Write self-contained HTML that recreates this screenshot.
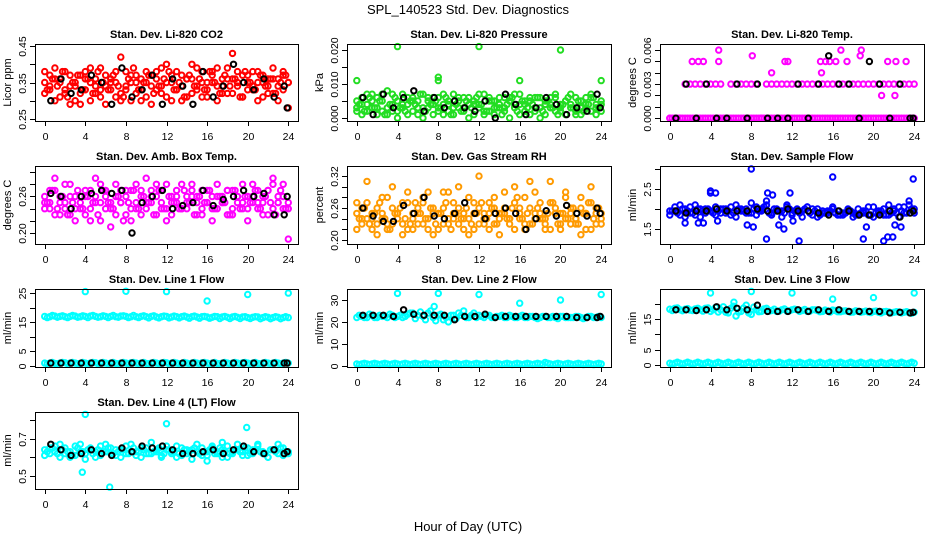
<!DOCTYPE html>
<html><head><meta charset="utf-8"><style>
html,body{margin:0;padding:0;background:#fff;}
svg{display:block;font-family:"Liberation Sans",Arial,sans-serif;}
</style></head><body>
<svg id="chart" width="936" height="540" viewBox="0 0 936 540" xmlns="http://www.w3.org/2000/svg">
<text x="468" y="14" text-anchor="middle" font-size="13">SPL_140523  Std. Dev. Diagnostics</text>
<text x="468" y="531" text-anchor="middle" font-size="13">Hour of Day (UTC)</text>
</svg>
<script>
const hoursC = [0,0.5,1,1.5,2,2.5,3,3.5,4,4.5,5,5.5,6,6.5,7,7.5,8,8.5,9,9.5,10,10.5,11,11.5,12,12.5,13,13.5,14,14.5,15,15.5,16,16.5,17,17.5,18,18.5,19,19.5,20,20.5,21,21.5,22,22.5,23,23.5,24];
const hoursD = [0.25,0.75,1.25,1.75,2.25,2.75,3.25,3.75,4.25,4.75,5.25,5.75,6.25,6.75,7.25,7.75,8.25,8.75,9.25,9.75,10.25,10.75,11.25,11.75,12.25,12.75,13.25,13.75,14.25,14.75,15.25,15.75,16.25,16.75,17.25,17.75,18.25,18.75,19.25,19.75,20.25,20.75,21.25,21.75,22.25,22.75,23.25,23.75];
const hoursB = [0.6,1.6,2.6,3.6,4.6,5.6,6.6,7.6,8.6,9.6,10.6,11.6,12.6,13.6,14.6,15.6,16.6,17.6,18.6,19.6,20.6,21.6,22.6,23.6,23.9];
const xTicks = [0,4,8,12,16,20,24];

const co2A = [0.35,0.33,0.36,0.31,0.38,0.34,0.30,0.37,0.33,0.35,0.32,0.39,0.34,0.36,0.31,0.42,0.33,0.37,0.35,0.30,0.38,0.34,0.36,0.32,0.40,0.35,0.33,0.37,0.31,0.36,0.34,0.38,0.33,0.35,0.39,0.32,0.36,0.43,0.34,0.37,0.33,0.38,0.35,0.31,0.36,0.39,0.34,0.37,0.35];
const co2B = [0.32,0.37,0.30,0.36,0.33,0.29,0.35,0.32,0.38,0.30,0.36,0.33,0.29,0.35,0.38,0.32,0.34,0.30,0.37,0.33,0.35,0.29,0.38,0.34,0.31,0.37,0.33,0.30,0.36,0.32,0.39,0.31,0.35,0.37,0.30,0.34,0.32,0.36,0.38,0.31,0.35,0.33,0.30,0.37,0.34,0.32,0.36,0.33,0.28];
const co2C = [0.38,0.34,0.39,0.35,0.32,0.37,0.34,0.29,0.36,0.39,0.34,0.31,0.37,0.33,0.35,0.30,0.38,0.35,0.32,0.36,0.31,0.37,0.33,0.39,0.35,0.30,0.38,0.34,0.36,0.40,0.33,0.35,0.31,0.38,0.34,0.36,0.39,0.32,0.35,0.31,0.37,0.34,0.38,0.35,0.32,0.36,0.30,0.38,0.35];
const co2D = [0.33,0.36,0.34,0.38,0.31,0.35,0.37,0.33,0.36,0.32,0.38,0.35,0.33,0.37,0.34,0.31,0.36,0.39,0.33,0.35,0.37,0.32,0.34,0.36,0.38,0.33,0.35,0.31,0.37,0.34,0.36,0.33,0.38,0.35,0.32,0.37,0.34,0.36,0.31,0.38,0.35,0.33,0.37,0.34,0.36,0.32,0.35,0.37];
const co2Black = [0.30,0.36,0.32,0.33,0.37,0.35,0.29,0.39,0.31,0.33,0.37,0.29,0.36,0.34,0.29,0.38,0.31,0.34,0.40,0.35,0.33,0.36,0.31,0.34,0.28];

const presA = [0.002,0.006,0.004,0.007,0.001,0.005,0.003,0.007,0.000,0.004,0.006,0.002,0.005,0.007,0.003,0.001,0.006,0.004,0.002,0.007,0.005,0.003,0.006,0.001,0.004,0.007,0.002,0.005,0.003,0.006,0.000,0.004,0.007,0.002,0.005,0.003,0.006,0.001,0.004,0.007,0.002,0.005,0.003,0.006,0.001,0.004,0.007,0.003,0.005];
const presB = [0.005,0.001,0.007,0.003,0.006,0.002,0.008,0.004,0.002,0.007,0.001,0.005,0.003,0.000,0.006,0.004,0.002,0.007,0.005,0.001,0.003,0.006,0.000,0.004,0.007,0.002,0.005,0.001,0.006,0.003,0.005,0.007,0.001,0.004,0.006,0.002,0.000,0.005,0.003,0.006,0.004,0.001,0.007,0.002,0.005,0.003,0.006,0.001,0.004];
const presC = [0.003,0.004,0.002,0.005,0.003,0.007,0.001,0.002,0.005,0.003,0.004,0.006,0.001,0.003,0.005,0.006,0.003,0.001,0.004,0.003,0.006,0.002,0.004,0.005,0.003,0.001,0.006,0.003,0.004,0.002,0.006,0.003,0.004,0.005,0.001,0.006,0.003,0.004,0.006,0.002,0.003,0.005,0.004,0.001,0.003,0.006,0.002,0.004,0.002];
const presD = [0.004,0.002,0.006,0.003,0.005,0.001,0.004,0.006,0.003,0.002,0.005,0.004,0.007,0.002,0.004,0.005,0.003,0.006,0.001,0.004,0.002,0.005,0.003,0.006,0.004,0.002,0.005,0.003,0.001,0.004,0.006,0.002,0.005,0.003,0.004,0.006,0.002,0.005,0.003,0.001,0.004,0.006,0.003,0.005,0.002,0.004,0.006,0.003];
const presOutHours = [0,4,8,8,12,16,20,24];
const presOutVals = [0.011,0.021,0.011,0.012,0.021,0.011,0.020,0.011];
const presBlack = [0.006,0.001,0.007,0.003,0.006,0.008,0.002,0.006,0.003,0.005,0.003,0.002,0.005,0.000,0.007,0.004,0.001,0.003,0.006,0.004,0.001,0.003,0.002,0.007,0.003];

const tempA = [0,0,0,0,0,0,0,0,0,0,0,0,0,0,0,0,0,0,0,0,0,0,0,0,0,0,0,0,0,0,0,0,0,0,0,0,0,0,0,0,0,0,0,0,0,0,0,0,0];
const tempD = [0,0,0,0,0,0,0,0,0,0,0,0,0,0,0,0,0,0,0,0,0,0,0,0,0,0,0,0,0,0,0,0,0,0,0,0,0,0,0,0,0,0,0,0,0,0,0,0];
const tempB = [0,0,0,0.003,0.003,0.003,0.003,0.003,0.003,0.003,0.003,0,0.003,0.003,0.003,0.003,0.003,0.003,0,0.003,0.003,0.003,0.003,0.003,0.003,0.003,0.003,0.003,0.003,0.003,0.003,0.003,0.003,0.003,0.003,0.003,0.003,0.003,0.003,0.003,0.003,0.003,0.003,0.003,0.003,0.003,0.003,0.003,0.003];
const tempOutHours = [2.2,2.8,3.3,4.8,4.8,8.1,10,11.3,11.6,14.8,14.9,15.3,15.7,16.3,16.8,17.4,18.7,18.8,20.8,21.4,22.1,22.2,23.2];
const tempOutVals = [0.005,0.005,0.005,0.006,0.005,0.0055,0.004,0.005,0.005,0.005,0.004,0.005,0.005,0.005,0.006,0.005,0.0055,0.006,0.002,0.005,0.002,0.005,0.005];
const tempBlack = [0,0.003,0,0.003,0,0,0.003,0,0.003,0,0,0,0.003,0,0.003,0.0055,0.003,0.003,0,0.005,0.003,0,0.003,0,0];

const boxA = [0.26,0.24,0.27,0.23,0.25,0.28,0.24,0.26,0.23,0.27,0.25,0.22,0.26,0.24,0.28,0.25,0.23,0.27,0.24,0.26,0.29,0.25,0.23,0.27,0.24,0.26,0.25,0.28,0.24,0.26,0.23,0.27,0.25,0.24,0.28,0.26,0.23,0.27,0.25,0.24,0.26,0.28,0.25,0.23,0.27,0.24,0.26,0.28,0.25];
const boxB = [0.24,0.27,0.23,0.26,0.28,0.23,0.26,0.24,0.27,0.22,0.26,0.28,0.24,0.25,0.23,0.27,0.26,0.24,0.28,0.23,0.25,0.27,0.26,0.24,0.28,0.23,0.27,0.24,0.26,0.28,0.25,0.23,0.27,0.26,0.24,0.25,0.27,0.23,0.26,0.28,0.24,0.25,0.27,0.26,0.23,0.28,0.25,0.24,0.19];
const boxC = [0.25,0.25,0.29,0.25,0.24,0.26,0.22,0.25,0.26,0.24,0.29,0.25,0.27,0.21,0.26,0.25,0.27,0.22,0.25,0.27,0.24,0.26,0.28,0.25,0.22,0.25,0.26,0.24,0.25,0.27,0.26,0.24,0.25,0.22,0.26,0.25,0.27,0.24,0.26,0.25,0.22,0.26,0.24,0.25,0.27,0.29,0.25,0.26,0.24];
const boxD = [0.25,0.27,0.24,0.26,0.23,0.25,0.27,0.24,0.26,0.25,0.23,0.27,0.25,0.24,0.26,0.22,0.25,0.27,0.24,0.26,0.25,0.23,0.27,0.24,0.26,0.25,0.24,0.27,0.25,0.23,0.26,0.25,0.27,0.24,0.26,0.25,0.23,0.27,0.24,0.26,0.25,0.27,0.24,0.26,0.25,0.23,0.27,0.24];
const boxBlack = [0.265,0.26,0.24,0.26,0.265,0.27,0.265,0.27,0.2,0.25,0.26,0.27,0.24,0.245,0.25,0.27,0.245,0.255,0.26,0.27,0.26,0.265,0.23,0.23,0.26];

const rhA = [0.25,0.23,0.27,0.22,0.26,0.24,0.28,0.23,0.25,0.27,0.22,0.24,0.26,0.23,0.29,0.25,0.22,0.26,0.24,0.27,0.23,0.25,0.28,0.22,0.26,0.24,0.27,0.23,0.25,0.29,0.24,0.22,0.26,0.28,0.23,0.25,0.27,0.24,0.22,0.26,0.25,0.28,0.23,0.24,0.26,0.22,0.27,0.25,0.24];
const rhB = [0.22,0.26,0.24,0.25,0.23,0.28,0.22,0.26,0.24,0.21,0.27,0.25,0.23,0.28,0.22,0.26,0.25,0.23,0.29,0.24,0.26,0.22,0.24,0.27,0.23,0.25,0.22,0.28,0.24,0.26,0.23,0.27,0.24,0.22,0.26,0.29,0.24,0.23,0.27,0.25,0.22,0.24,0.26,0.23,0.28,0.25,0.22,0.26,0.23];
const rhC = [0.27,0.24,0.31,0.24,0.21,0.25,0.23,0.30,0.25,0.23,0.29,0.22,0.25,0.27,0.24,0.21,0.25,0.29,0.23,0.25,0.30,0.24,0.21,0.25,0.32,0.23,0.25,0.26,0.21,0.25,0.24,0.30,0.25,0.23,0.31,0.24,0.25,0.22,0.31,0.25,0.23,0.29,0.25,0.24,0.21,0.25,0.30,0.23,0.25];
const rhD = [0.24,0.26,0.23,0.25,0.27,0.24,0.22,0.25,0.26,0.24,0.23,0.27,0.25,0.24,0.26,0.23,0.25,0.27,0.22,0.25,0.24,0.26,0.23,0.25,0.27,0.24,0.26,0.23,0.25,0.24,0.26,0.28,0.24,0.25,0.23,0.26,0.24,0.25,0.27,0.23,0.25,0.24,0.26,0.23,0.25,0.27,0.24,0.26];
const rhBlack = [0.26,0.245,0.235,0.235,0.265,0.25,0.28,0.245,0.24,0.25,0.27,0.25,0.24,0.25,0.26,0.25,0.22,0.24,0.255,0.245,0.265,0.25,0.245,0.26,0.25];

const sfA = [1.95,2.05,1.85,2.0,1.9,2.1,1.8,2.0,1.95,2.05,1.9,2.0,1.85,2.1,1.95,2.0,1.9,2.05,1.95,2.1,1.85,2.0,1.95,2.05,1.9,2.0,1.95,2.05,1.85,2.0,1.95,1.9,2.05,1.95,1.85,2.0,1.9,2.0,1.95,1.85,2.05,1.9,2.0,1.85,1.95,2.05,1.9,2.1,2.0];
const sfB = [1.85,1.95,2.1,1.8,2.05,1.85,2.0,1.9,2.4,1.85,2.0,1.9,2.05,1.8,2.0,1.9,2.15,1.85,2.0,2.2,1.9,1.95,1.8,2.1,1.85,1.95,1.8,2.05,2.0,1.8,1.9,1.95,2.0,1.85,1.9,1.95,1.8,1.85,1.9,2.05,1.8,1.95,1.85,2.1,2.0,1.8,2.05,2.2,1.9];
const sfD = [1.95,1.9,2.0,1.95,1.9,2.0,1.95,2.0,1.9,1.95,2.0,1.95,1.9,2.0,1.95,1.9,2.0,1.95,2.05,1.9,2.0,1.95,1.9,2.0,1.95,1.9,2.0,1.9,1.95,1.85,1.9,1.95,1.9,1.85,1.9,1.95,1.85,1.9,1.95,1.85,1.9,1.95,1.85,1.9,1.9,1.95,1.9,2.0];
const sfOutHours = [1.5,2.8,3.3,4.0,4.5,4.7,7.6,8.0,8.2,9.5,9.6,10.1,10.7,11.2,11.8,12.1,12.7,16.0,19.0,19.3,21.0,21.4,21.9,22.1,22.7,23.9];
const sfOutVals = [1.65,1.65,1.65,2.45,2.4,1.7,1.6,3.0,1.55,1.25,2.4,2.35,1.6,1.5,2.4,1.7,1.2,2.8,1.25,1.55,1.2,1.3,1.3,1.6,1.55,2.75];
const sfBlack = [1.95,1.9,1.95,1.95,2.0,1.95,1.95,1.95,2.0,1.95,1.95,2.0,1.95,1.95,1.9,1.85,1.95,1.95,1.85,1.85,1.85,1.95,1.8,1.9,1.95];

const l1A = [17.0,16.9,17.1,17.0,16.9,17.0,17.1,16.9,17.0,17.1,17.0,16.9,17.0,17.0,16.9,17.1,17.0,16.9,16.9,17.0,16.9,17.0,16.8,16.9,17.0,16.8,16.9,16.9,16.8,16.9,16.8,16.9,16.8,16.7,16.9,16.8,16.7,16.8,16.7,16.8,16.6,16.7,16.8,16.6,16.7,16.6,16.7,16.6,16.6];
const l1D = [16.6,17.3,16.7,17.2,16.6,17.3,16.7,17.2,16.6,17.3,16.7,17.2,16.6,17.3,16.7,17.2,16.6,17.3,16.6,17.2,16.5,17.2,16.5,17.1,16.5,17.1,16.5,17.1,16.4,17.1,16.4,17.0,16.4,17.0,16.3,17.0,16.3,17.0,16.3,16.9,16.3,16.9,16.2,16.9,16.2,16.9,16.2,16.9];
const l1Low = [1.0,1.0,0.9,1.0,1.1,1.0,1.0,0.9,1.0,1.0,1.1,1.0,1.0,1.0,0.9,1.0,1.0,1.1,1.0,1.0,0.9,1.0,1.0,1.0,1.1,1.0,1.0,0.9,1.0,1.0,1.0,1.1,1.0,1.0,0.9,1.0,1.0,1.0,1.0,1.1,1.0,1.0,0.9,1.0,1.0,1.0,1.0,1.0,1.0];
const l1LowD = [0.8,1.2,0.8,1.2,0.8,1.2,0.8,1.2,0.8,1.2,0.8,1.2,0.8,1.2,0.8,1.2,0.8,1.2,0.8,1.2,0.8,1.2,0.8,1.2,0.8,1.2,0.8,1.2,0.8,1.2,0.8,1.2,0.8,1.2,0.8,1.2,0.8,1.2,0.8,1.2,0.8,1.2,0.8,1.2,0.8,1.2,0.8,1.2];
const l1OutHours = [4,8,12,16,20,24];
const l1OutVals = [25.5,25.6,25.5,22.3,24.5,25.0];
const l1Black = [1.0,1.0,1.0,1.0,1.0,1.0,1.0,1.0,1.0,1.0,1.0,1.0,1.0,1.0,1.0,1.0,1.0,1.0,1.0,1.0,1.0,1.0,1.0,1.0,1.0];

const l2A = [22,22.5,22,23,22,22.5,22,23,22.5,22,23.5,24,23,22.5,24,22,23,21,20,23,24,25,22,24,23,22,23,22,22.5,22,23,22,22.5,22,22.5,22,22,22.5,22,22,22.5,22,22,22.5,22,22,22.5,22,22];
const l2D = [23,22,23.5,22,23,22.5,23.5,22,23,22.5,24,21.5,24.5,21,25,20.5,23.5,22,23,21.5,23,22,23,22,22.5,23,22,22.5,23,22,22.5,22,23,22,22.5,21.5,22.5,22,22.5,21.5,22.5,22,22,22.5,21.5,22.5,22,22.5];
const l2Low = [0.8,0.8,0.8,0.8,0.8,0.8,0.8,0.8,0.8,0.8,0.8,0.8,0.8,0.8,0.8,0.8,0.8,0.8,0.8,0.8,0.8,0.8,0.8,0.8,0.8,0.8,0.8,0.8,0.8,0.8,0.8,0.8,0.8,0.8,0.8,0.8,0.8,1.5,0.8,0.8,0.8,0.8,0.8,0.8,0.8,0.8,0.8,0.8,0.8];
const l2LowD = [0.5,1.1,0.5,1.1,0.5,1.1,0.5,1.1,0.5,1.1,0.5,1.1,0.5,1.1,0.5,1.1,0.5,1.1,0.5,1.1,0.5,1.1,0.5,1.1,0.5,1.1,0.5,1.1,0.5,1.1,0.5,1.1,0.5,1.1,0.5,1.1,0.5,1.1,0.5,1.1,0.5,1.1,0.5,1.1,0.5,1.1,0.5,1.1];
const l2OutHours = [4,7.6,8,12,16,20,24];
const l2OutVals = [33,27,33,32.5,28.5,30,32.5];
const l2Black = [23,23,23,22.5,25.5,23.5,23,23,23,21,22.5,22.5,23.5,22,22.5,22.5,22.5,22.5,22.5,22.5,22.5,22,22,22,22.5];

const l3A = [18.2,18.5,18.0,18.2,17.9,18.3,18.0,18.5,17.5,18.8,18.0,17.2,18.5,16.0,17.5,19.5,16.5,18.0,17.5,18.5,17.8,17.5,18.0,17.6,18.0,18.0,17.8,17.5,18.0,17.8,17.5,17.7,17.9,17.4,17.6,17.5,17.3,17.5,17.4,17.3,17.5,17.2,17.4,17.3,17.2,17.3,17.2,17.1,17.2];
const l3D = [17.8,18.6,17.7,18.4,17.8,18.5,17.6,18.6,18.0,17.3,19.0,17.0,19.2,17.2,18.6,17.0,18.9,17.4,18.3,17.6,18.2,17.6,18.3,17.7,18.2,17.5,18.1,17.6,18.0,17.4,17.9,17.3,17.8,17.4,17.7,17.2,17.7,17.2,17.6,17.1,17.6,17.0,17.5,17.0,17.4,17.0,17.4,16.9];
const l3Low = [0.6,0.6,0.6,0.6,0.6,0.6,0.6,0.6,0.6,0.6,0.6,0.6,0.6,0.6,0.6,0.6,0.6,0.6,0.6,0.6,0.6,0.6,0.6,0.6,0.6,0.6,0.6,0.6,0.6,0.6,0.6,0.6,0.6,0.6,0.6,0.6,0.6,0.6,0.6,0.6,0.6,0.6,0.6,0.6,0.6,0.6,0.6,0.6,0.6];
const l3LowD = [0.3,0.9,0.3,0.9,0.3,0.9,0.3,0.9,0.3,0.9,0.3,0.9,0.3,0.9,0.3,0.9,0.3,0.9,0.3,0.9,0.3,0.9,0.3,0.9,0.3,0.9,0.3,0.9,0.3,0.9,0.3,0.9,0.3,0.9,0.3,0.9,0.3,0.9,0.3,0.9,0.3,0.9,0.3,0.9,0.3,0.9,0.3,0.9];
const l3OutHours = [4,6.3,8,12,16,20,24];
const l3OutVals = [23.5,20.5,24,23.5,21.5,22,23.5];
const l3Black = [18,18,17.8,18,19,18,18.5,18,19.5,17.5,17.5,17.5,18,17.5,18,17.5,18,17.5,17.5,17.5,17.5,17,17.2,17,17.2];

const l4A = [0.64,0.62,0.66,0.60,0.65,0.63,0.61,0.67,0.62,0.64,0.60,0.66,0.63,0.65,0.61,0.64,0.62,0.67,0.63,0.60,0.65,0.62,0.64,0.61,0.66,0.63,0.60,0.65,0.62,0.64,0.67,0.61,0.63,0.65,0.62,0.60,0.66,0.63,0.64,0.61,0.65,0.62,0.67,0.63,0.60,0.64,0.62,0.65,0.63];
const l4B = [0.61,0.65,0.63,0.67,0.62,0.60,0.66,0.63,0.59,0.65,0.63,0.61,0.67,0.62,0.64,0.60,0.66,0.63,0.61,0.65,0.62,0.68,0.63,0.60,0.64,0.62,0.66,0.61,0.64,0.59,0.63,0.65,0.61,0.66,0.63,0.64,0.60,0.62,0.67,0.63,0.61,0.64,0.66,0.62,0.60,0.64,0.67,0.61,0.62];
const l4D = [0.63,0.65,0.62,0.64,0.63,0.61,0.65,0.63,0.64,0.62,0.64,0.63,0.65,0.62,0.63,0.64,0.62,0.65,0.63,0.64,0.62,0.63,0.65,0.62,0.64,0.63,0.62,0.64,0.63,0.65,0.62,0.63,0.64,0.62,0.65,0.63,0.62,0.64,0.63,0.65,0.62,0.64,0.63,0.62,0.64,0.63,0.65,0.63];
const l4OutHours = [3.7,4.0,6.4,12.0,16.0,17.5,19.9];
const l4OutVals = [0.52,0.83,0.44,0.78,0.58,0.68,0.76];
const l4Black = [0.67,0.64,0.61,0.62,0.64,0.62,0.61,0.65,0.63,0.66,0.65,0.66,0.64,0.62,0.62,0.63,0.64,0.62,0.64,0.66,0.63,0.62,0.64,0.62,0.63];

const NS = "http://www.w3.org/2000/svg";
const svg = document.getElementById('chart');
function mk(tag, attrs, parent) {
  const e = document.createElementNS(NS, tag);
  for (const k in attrs) e.setAttribute(k, attrs[k]);
  (parent || svg).appendChild(e);
  return e;
}
const colsX = [[35,298],[347,611],[660,924]];
const rowsY = [[44,121],[166,244],[289,367],[412,489]];

const panels = [
  {name:'co2', title:'Stan. Dev. Li-820 CO2', ylab:'Licor ppm', col:0,row:0, ylim:[0.244,0.456], ticks:[0.25,0.30,0.35,0.40,0.45], labels:['0.25','','0.35','','0.45'], color:'#ff0000',
   series:[[hoursC,co2A],[hoursC,co2B],[hoursC,co2C],[hoursD,co2D]], black:co2Black},
  {name:'pressure', title:'Stan. Dev. Li-820 Pressure', ylab:'kPa', col:1,row:0, ylim:[-0.00088,0.02176], ticks:[0,0.005,0.010,0.015,0.020], labels:['0.000','','0.010','','0.020'], color:'#22dd22',
   series:[[hoursC,presA],[hoursC,presB],[hoursC,presC],[hoursD,presD],[presOutHours,presOutVals]], black:presBlack},
  {name:'li820-temp', title:'Stan. Dev. Li-820 Temp.', ylab:'degrees C', col:2,row:0, ylim:[-0.00025,0.00654], ticks:[0,0.001,0.002,0.003,0.004,0.005,0.006], labels:['0.000','','','0.003','','','0.006'], color:'#ff00ff',
   series:[[hoursC,tempA],[hoursD,tempD],[hoursC,tempB],[tempOutHours,tempOutVals]], black:tempBlack},
  {name:'amb-box-temp', title:'Stan. Dev. Amb. Box Temp.', ylab:'degrees C', col:0,row:1, ylim:[0.182,0.310], ticks:[0.20,0.22,0.24,0.26,0.28,0.30], labels:['0.20','','','0.26','',''], color:'#ff00ff',
   series:[[hoursC,boxA],[hoursC,boxB],[hoursC,boxC],[hoursD,boxD]], black:boxBlack},
  {name:'gas-stream-rh', title:'Stan. Dev. Gas Stream RH', ylab:'percent', col:1,row:1, ylim:[0.1925,0.339], ticks:[0.20,0.22,0.24,0.26,0.28,0.30,0.32], labels:['0.20','','','0.26','','','0.32'], color:'#ff9a00',
   series:[[hoursC,rhA],[hoursC,rhB],[hoursC,rhC],[hoursD,rhD]], black:rhBlack},
  {name:'sample-flow', title:'Stan. Dev. Sample Flow', ylab:'ml/min', col:2,row:1, ylim:[1.125,3.075], ticks:[1.5,2.0,2.5,3.0], labels:['1.5','','2.5',''], color:'#0000ff',
   series:[[hoursC,sfA],[hoursC,sfB],[hoursD,sfD],[sfOutHours,sfOutVals]], black:sfBlack},
  {name:'line1-flow', title:'Stan. Dev. Line 1 Flow', ylab:'ml/min', col:0,row:2, ylim:[-0.34,26.4], ticks:[0,5,10,15,20,25], labels:['0','5','','15','','25'], color:'#00ffff',
   series:[[hoursC,l1A],[hoursD,l1D],[hoursC,l1Low],[hoursD,l1LowD],[l1OutHours,l1OutVals]], black:l1Black},
  {name:'line2-flow', title:'Stan. Dev. Line 2 Flow', ylab:'ml/min', col:1,row:2, ylim:[-0.6,35], ticks:[0,10,20,30], labels:['0','10','20','30'], color:'#00ffff',
   series:[[hoursC,l2A],[hoursD,l2D],[hoursC,l2Low],[hoursD,l2LowD],[l2OutHours,l2OutVals]], black:l2Black},
  {name:'line3-flow', title:'Stan. Dev. Line 3 Flow', ylab:'ml/min', col:2,row:2, ylim:[-0.65,24.8], ticks:[0,5,10,15,20], labels:['0','5','','15',''], color:'#00ffff',
   series:[[hoursC,l3A],[hoursD,l3D],[hoursC,l3Low],[hoursD,l3LowD],[l3OutHours,l3OutVals]], black:l3Black},
  {name:'line4-flow', title:'Stan. Dev. Line 4 (LT) Flow', ylab:'ml/min', col:0,row:3, ylim:[0.43,0.843], ticks:[0.5,0.6,0.7,0.8], labels:['0.5','','0.7',''], color:'#00ffff',
   series:[[hoursC,l4A],[hoursC,l4B],[hoursD,l4D],[l4OutHours,l4OutVals]], black:l4Black}
];

panels.forEach(p => {
  const [x0,x1] = colsX[p.col], [y0,y1] = rowsY[p.row];
  const g = mk('g', {});
  
  
  const xs = h => x0 + (h + 0.96) / 25.92 * (x1 - x0);
  const ys = v => y1 - (v - p.ylim[0]) / (p.ylim[1] - p.ylim[0]) * (y1 - y0);
  const t = mk('text', {x:(x0+x1)/2, y:y0-6, 'text-anchor':'middle', 'font-size':'11', 'font-weight':'bold'}, g);
  t.textContent = p.title;
  
  
  const yl = mk('text', {x:0, y:0, 'text-anchor':'middle', 'font-size':'11', transform:`translate(${x0-24},${(y0+y1)/2}) rotate(-90)`}, g);
  yl.textContent = p.ylab;
  
  
  const pts = mk('g', {fill:'none', 'stroke-width':'2'}, g);
  
  
  p.series.forEach(([hs, vs]) => {
    vs.forEach((v, i) => {
      const c = mk('circle', {cx:xs(hs[i]).toFixed(1), cy:ys(v).toFixed(1), r:'2.7', stroke:p.color}, pts);
      
      
    });
  });
  p.black.forEach((v, i) => {
    const c = mk('circle', {cx:xs(hoursB[i]).toFixed(1), cy:ys(v).toFixed(1), r:'2.7', stroke:'#000'}, pts);
    
    
  });
  const b = mk('rect', {x:x0+0.5, y:y0+0.5, width:x1-x0, height:y1-y0, fill:'none', stroke:'#000', 'stroke-width':'1'}, g);
  
  
  xTicks.forEach(h => {
    const x = Math.round(xs(h)) + 0.5;
    const l = mk('line', {x1:x, x2:x, y1:y1, y2:y1+5, stroke:'#000'}, g);
    
    
    const tx = mk('text', {x:x, y:y1+19, 'text-anchor':'middle', 'font-size':'10.5'}, g);
    tx.textContent = h;
    
    
  });
  p.ticks.forEach((v, i) => {
    const y = Math.round(ys(v)) + 0.5;
    const l = mk('line', {x1:x0-5, x2:x0, y1:y, y2:y, stroke:'#000'}, g);
    
    
    if (p.labels[i]) {
      const ty = mk('text', {x:0, y:0, 'text-anchor':'middle', 'font-size':'10.5', transform:`translate(${x0-9},${y}) rotate(-90)`}, g);
      ty.textContent = p.labels[i];
      
      
    }
  });
});
</script>
</body></html>
